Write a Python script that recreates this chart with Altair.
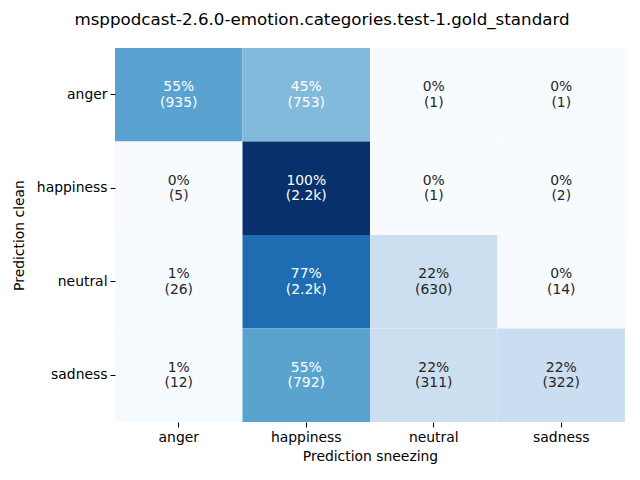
import altair as alt
import pandas as pd

true_labels = ["anger", "happiness", "neutral", "sadness"]
pred_labels = ["anger", "happiness", "neutral", "sadness"]
counts = [
    [935, 753, 1, 1],
    [5, 2200, 1, 2],
    [26, 2200, 630, 14],
    [12, 792, 311, 322],
]
title_text = "msppodcast-2.6.0-emotion.categories.test-1.gold_standard"
blues = ["#f7fbff", "#deebf7", "#c6dbef", "#9ecae1", "#6baed6",
         "#4292c6", "#2171b5", "#08519c", "#08306b"]

rows = []
for i, t in enumerate(true_labels):
    total = sum(counts[i])
    for j, p in enumerate(pred_labels):
        c = counts[i][j]
        frac = c / total
        cl = f"{c/1000:.1f}k" if c >= 1000 else str(c)
        rows.append(dict(true=t, pred=p, frac=frac,
                         label=f"{round(frac*100)}%\n({cl})"))
df = pd.DataFrame(rows)

font = "DejaVu Sans"
x = alt.X("pred:N", sort=pred_labels, title="Prediction sneezing",
          scale=alt.Scale(paddingInner=0, paddingOuter=0),
          axis=alt.Axis(labelAngle=0, titlePadding=6))
y = alt.Y("true:N", sort=true_labels, title="Prediction clean",
          scale=alt.Scale(paddingInner=0, paddingOuter=0),
          axis=alt.Axis(titlePadding=10))

rect = alt.Chart(df).mark_rect(strokeWidth=0).encode(
    x=x, y=y,
    color=alt.Color("frac:Q", legend=None,
                    scale=alt.Scale(domain=[i / 8 for i in range(9)],
                                    range=blues, interpolate="rgb")),
)
text = alt.Chart(df).mark_text(lineBreak="\n", font=font, fontSize=13.9,
                               lineHeight=15.5, baseline="middle",
                               dy=-7.5).encode(
    x=x, y=y, text="label:N",
    color=alt.condition(alt.datum.frac > 0.4, alt.value("white"),
                        alt.value("#262626")),
)

chart = (rect + text).properties(
    width=510, height=374,
    title=alt.TitleParams(title_text, font=font, fontSize=16.7,
                          fontWeight="normal", color="black",
                          anchor="middle", dx=-48, offset=19),
    autosize=alt.AutoSizeParams(type="none"),
    padding={"left": 115, "top": 48, "right": 15, "bottom": 58},
).configure_view(stroke=None).configure_axis(
    domain=False, labelFont=font, labelFontSize=13.9, labelColor="black",
    titleFont=font, titleFontSize=13.9, titleFontWeight="normal",
    titleColor="black", tickColor="black", tickSize=5, labelPadding=3,
    grid=False,
)

chart.save("out.html", embed_options={"renderer": "svg", "actions": False})
